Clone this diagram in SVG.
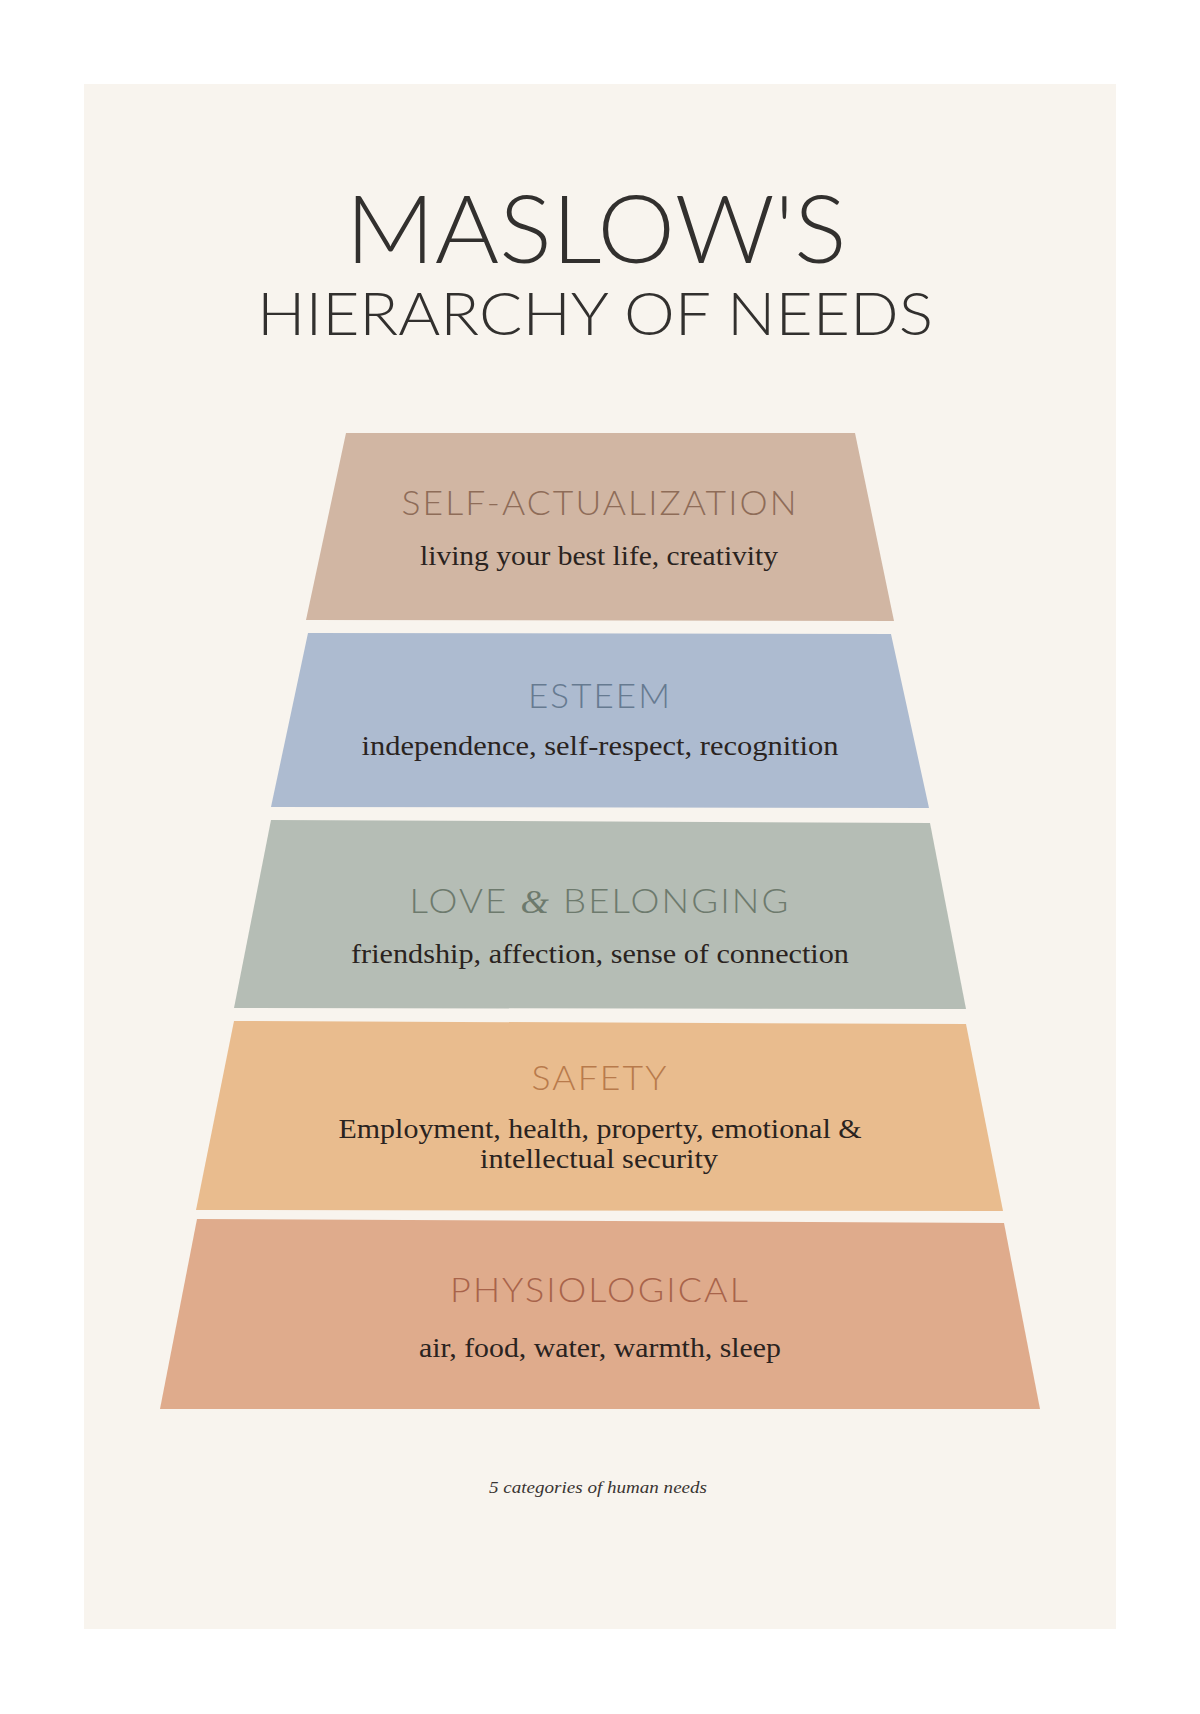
<svg xmlns="http://www.w3.org/2000/svg" width="1200" height="1714" viewBox="0 0 1200 1714">
<style>
.title{font-family:"Lato","Liberation Sans",sans-serif;font-weight:300;fill:#32302e;text-anchor:middle}
.cat{font-family:"Lato","Liberation Sans",sans-serif;font-weight:300;font-size:34px;text-anchor:middle;letter-spacing:2px}
.sub{font-family:"Liberation Serif","Times New Roman",serif;font-size:28px;fill:#2a2320;text-anchor:middle}
.foot{font-family:"Liberation Serif",serif;font-style:italic;font-size:16px;fill:#3a3532;text-anchor:middle}
</style>
<rect x="0" y="0" width="1200" height="1714" fill="#ffffff"/>
<rect x="84" y="84" width="1032" height="1545" fill="#f8f4ee"/>
<g id="heading">
<text class="title" x="596" y="263" font-size="95" textLength="501" lengthAdjust="spacingAndGlyphs">MASLOW'S</text>
<text class="title" x="595" y="335" font-size="59" textLength="676" lengthAdjust="spacingAndGlyphs">HIERARCHY OF NEEDS</text>
</g>
<g id="connectors"></g>
<g id="self-actualization">
<polygon points="346,433 855,433 894,621 306,620" fill="#d1b6a3"/>
<text class="cat" x="600" y="515" fill="#8e6c58" textLength="397" lengthAdjust="spacingAndGlyphs">SELF-ACTUALIZATION</text>
<text class="sub" x="599" y="565" textLength="358" lengthAdjust="spacingAndGlyphs">living your best life, creativity</text>
</g>
<g id="esteem">
<polygon points="308,633 891,634 929,808 271,807" fill="#adbbd0"/>
<text class="cat" x="600" y="708" fill="#667a90" textLength="144" lengthAdjust="spacingAndGlyphs">ESTEEM</text>
<text class="sub" x="600" y="755" textLength="477" lengthAdjust="spacingAndGlyphs">independence, self-respect, recognition</text>
</g>
<g id="love-belonging">
<polygon points="271,820 930,823 966,1009 234,1008" fill="#b5bdb5"/>
<text class="cat" x="600" y="913" fill="#6d7a6d" textLength="381" lengthAdjust="spacingAndGlyphs">LOVE <tspan font-family="Liberation Serif,serif" font-style="italic">&amp;</tspan> BELONGING</text>
<text class="sub" x="600" y="963" textLength="498" lengthAdjust="spacingAndGlyphs">friendship, affection, sense of connection</text>
</g>
<g id="safety">
<polygon points="234,1021 966,1024 1003,1211 196,1210" fill="#e9bc8e"/>
<text class="cat" x="600" y="1090" fill="#b87a4b" textLength="137" lengthAdjust="spacingAndGlyphs">SAFETY</text>
<text class="sub" x="600" y="1138" textLength="523" lengthAdjust="spacingAndGlyphs">Employment, health, property, emotional &amp;</text>
<text class="sub" x="599" y="1168" textLength="238" lengthAdjust="spacingAndGlyphs">intellectual security</text>
</g>
<g id="physiological">
<polygon points="197,1219 1004,1223 1040,1409 160,1409" fill="#dfab8c"/>
<text class="cat" x="600" y="1302" fill="#a8634a" textLength="300" lengthAdjust="spacingAndGlyphs">PHYSIOLOGICAL</text>
<text class="sub" x="600" y="1357" textLength="362" lengthAdjust="spacingAndGlyphs">air, food, water, warmth, sleep</text>
</g>
<g id="footer">
<text class="foot" x="598" y="1493" textLength="218" lengthAdjust="spacingAndGlyphs">5 categories of human needs</text>
</g>
</svg>
